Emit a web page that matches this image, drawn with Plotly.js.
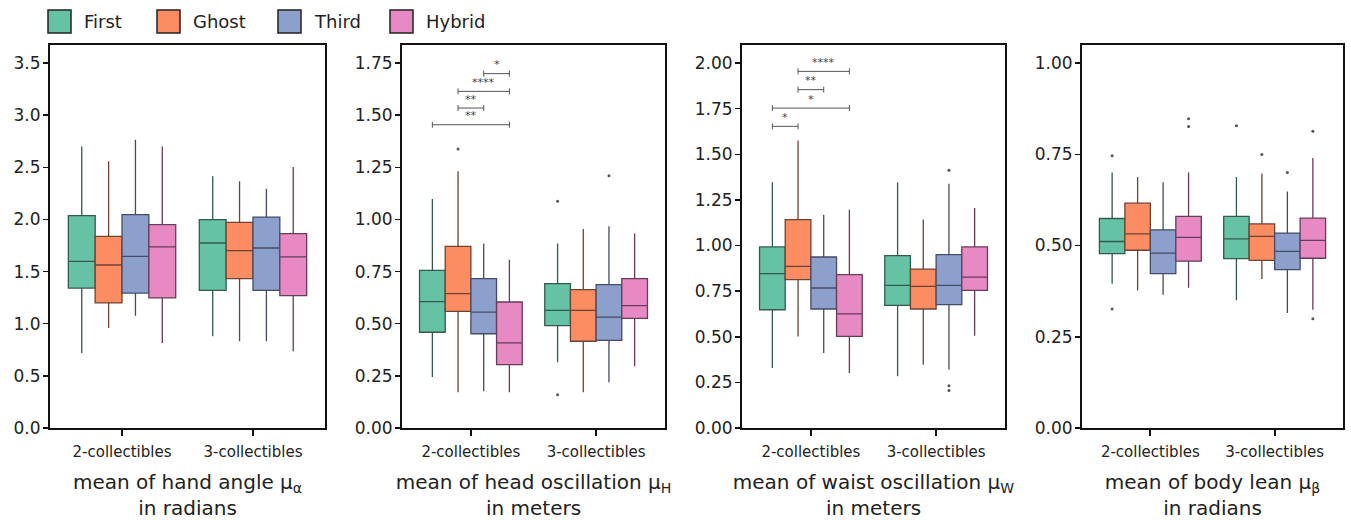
<!DOCTYPE html>
<html>
<head>
<meta charset="utf-8">
<script src="https://cdn.plot.ly/plotly-3.0.1.min.js"></script>
<style>html,body{margin:0;padding:0;background:#fff;}#chart{width:1351px;height:520px;}</style>
</head>
<body>
<div id="chart"></div>
<script>
const categories = ['2-collectibles', '3-collectibles'];
const seriesNames = ['First', 'Ghost', 'Third', 'Hybrid'];
const seriesColors = ['#66c2a5', '#fc8d62', '#8da0cb', '#e78ac3'];
const seriesEdge = ['#34594f', '#6e4334', '#444b66', '#663c5c'];

// Panel 1: mean of hand angle (radians) — [series][category]
const handQ1  = [[1.342, 1.320], [1.199, 1.432], [1.294, 1.320], [1.247, 1.269]];
const handMed = [[1.598, 1.774], [1.563, 1.700], [1.646, 1.726], [1.736, 1.640]];
const handQ3  = [[2.036, 1.998], [1.838, 1.972], [2.046, 2.023], [1.950, 1.863]];
const handLo  = [[0.719, 0.879], [0.959, 0.831], [1.077, 0.831], [0.815, 0.735]];
const handHi  = [[2.700, 2.413], [2.557, 2.365], [2.765, 2.295], [2.700, 2.503]];
const handOut = [[[], []], [[], []], [[], []], [[], []]];

// Panel 2: mean of head oscillation (meters)
const headQ1  = [[0.459, 0.491], [0.559, 0.416], [0.452, 0.420], [0.304, 0.526]];
const headMed = [[0.606, 0.564], [0.644, 0.564], [0.556, 0.532], [0.408, 0.587]];
const headQ3  = [[0.756, 0.692], [0.871, 0.663], [0.716, 0.687], [0.604, 0.716]];
const headLo  = [[0.245, 0.315], [0.171, 0.171], [0.176, 0.219], [0.171, 0.296]];
const headHi  = [[1.098, 0.884], [1.231, 0.954], [0.884, 0.967], [0.807, 0.932]];
const headOut = [[[], [0.160, 1.087]], [[1.338], []], [[], [1.210]], [[], []]];
const headSig = [[0, 3, 1.454, '**'], [1, 2, 1.534, '**'], [1, 3, 1.614, '****'], [2, 3, 1.699, '*']];

// Panel 3: mean of waist oscillation (meters)
const waistQ1  = [[0.648, 0.672], [0.813, 0.652], [0.652, 0.676], [0.502, 0.754]];
const waistMed = [[0.846, 0.782], [0.886, 0.776], [0.767, 0.782], [0.625, 0.827]];
const waistQ3  = [[0.992, 0.944], [1.142, 0.871], [0.937, 0.950], [0.840, 0.992]];
const waistLo  = [[0.329, 0.283], [0.502, 0.347], [0.411, 0.320], [0.301, 0.506]];
const waistHi  = [[1.346, 1.346], [1.576, 1.142], [1.169, 1.339], [1.196, 1.205]];
const waistOut = [[[], []], [[], []], [[], [1.412, 0.232, 0.206]], [[], []]];
const waistSig = [[0, 1, 1.653, '*'], [0, 3, 1.753, '*'], [1, 2, 1.854, '**'], [1, 3, 1.954, '****']];

// Panel 4: mean of body lean (radians)
const leanQ1  = [[0.478, 0.464], [0.487, 0.459], [0.423, 0.434], [0.457, 0.465]];
const leanMed = [[0.511, 0.518], [0.532, 0.525], [0.479, 0.484], [0.522, 0.514]];
const leanQ3  = [[0.574, 0.580], [0.616, 0.559], [0.543, 0.534], [0.580, 0.575]];
const leanLo  = [[0.395, 0.350], [0.377, 0.408], [0.365, 0.315], [0.384, 0.324]];
const leanHi  = [[0.700, 0.688], [0.688, 0.697], [0.673, 0.648], [0.700, 0.740]];
const leanOut = [[[0.746, 0.326], [0.828]], [[], [0.749]], [[], [0.700]], [[0.847, 0.826], [0.813, 0.299]]];

const yTickVals = [
  [0, 0.5, 1.0, 1.5, 2.0, 2.5, 3.0, 3.5],
  [0, 0.25, 0.5, 0.75, 1.0, 1.25, 1.5, 1.75],
  [0, 0.25, 0.5, 0.75, 1.0, 1.25, 1.5, 1.75, 2.0],
  [0, 0.25, 0.5, 0.75, 1.0]
];
const yTickText = [
  ['0.0', '0.5', '1.0', '1.5', '2.0', '2.5', '3.0', '3.5'],
  ['0.00', '0.25', '0.50', '0.75', '1.00', '1.25', '1.50', '1.75'],
  ['0.00', '0.25', '0.50', '0.75', '1.00', '1.25', '1.50', '1.75', '2.00'],
  ['0.00', '0.25', '0.50', '0.75', '1.00']
];
const axisTitles = [
  'mean of hand angle μ<sub>α</sub><br>in radians',
  'mean of head oscillation μ<sub>H</sub><br>in meters',
  'mean of waist oscillation μ<sub>W</sub><br>in meters',
  'mean of body lean μ<sub>β</sub><br>in radians'
];

const panels = [
  {q1: handQ1, med: handMed, q3: handQ3, lo: handLo, hi: handHi, out: handOut, sig: [], top: 3.5},
  {q1: headQ1, med: headMed, q3: headQ3, lo: headLo, hi: headHi, out: headOut, sig: headSig, top: 1.75},
  {q1: waistQ1, med: waistMed, q3: waistQ3, lo: waistLo, hi: waistHi, out: waistOut, sig: waistSig, top: 2.0},
  {q1: leanQ1, med: leanMed, q3: leanQ3, lo: leanLo, hi: leanHi, out: leanOut, sig: [], top: 1.0}
];

const W = 1351, H = 520;
const xPix = [[50, 325], [402, 665], [742, 1005], [1082, 1343]];
const yTopPix = 45, yBotPix = 428, yTickTopPix = 63;
const BOXGAP = 0.18;
const FONT = 'DejaVu Sans, Liberation Sans, Arial, sans-serif';
const catIndex = categories.map((c, j) => j);

// centre offset of series i inside a grouped category (same rule Plotly uses for boxmode 'group')
function boxOffset(i) {
  const dPos = 0.5 * (1 - BOXGAP);
  return -dPos + dPos * (2 * i + 1) / seriesNames.length;
}

const traces = [];
const shapes = [];
const annotations = [];
const layout = {
  width: W, height: H,
  margin: {l: 0, r: 0, t: 0, b: 0},
  paper_bgcolor: '#ffffff', plot_bgcolor: '#ffffff',
  boxmode: 'group', boxgap: BOXGAP, boxgroupgap: 0,
  showlegend: false,
  font: {family: FONT, color: '#222'}
};

panels.forEach((p, k) => {
  const sfx = k === 0 ? '' : String(k + 1);
  const xa = 'x' + sfx, ya = 'y' + sfx;
  seriesNames.forEach((name, i) => {
    traces.push({
      type: 'box', name: name, xaxis: xa, yaxis: ya,
      x: catIndex,
      q1: p.q1[i], median: p.med[i], q3: p.q3[i],
      lowerfence: p.lo[i], upperfence: p.hi[i],
      boxpoints: false,
      line: {color: seriesEdge[i], width: 1.3},
      fillcolor: seriesColors[i],
      whiskerwidth: 0,
      offsetgroup: name, alignmentgroup: 'panel' + k,
      showlegend: false,
      hoverinfo: 'skip'
    });
  });
  // outliers
  seriesNames.forEach((name, i) => {
    const ox = [], oy = [];
    p.out[i].forEach((vals, j) => {
      vals.forEach(v => { ox.push(catIndex[j] + boxOffset(i)); oy.push(v); });
    });
    if (ox.length) {
      traces.push({type: 'scatter', mode: 'markers', xaxis: xa, yaxis: ya, x: ox, y: oy,
        marker: {color: '#555', size: 3}, showlegend: false, hoverinfo: 'skip'});
    }
  });
  const yMax = p.top * (yBotPix - yTopPix) / (yBotPix - yTickTopPix);
  layout['xaxis' + sfx] = {
    domain: [xPix[k][0] / W, xPix[k][1] / W], anchor: ya,
    range: [-0.55, 1.55],
    tickvals: catIndex, ticktext: categories,
    showline: true, linecolor: '#111', linewidth: 2, mirror: true,
    ticks: 'outside', ticklen: 6, tickwidth: 2, tickcolor: '#111',
    showgrid: false, zeroline: false,
    tickfont: {family: FONT, size: 15, color: '#222'},
    ticklabelstandoff: 3,
    title: {text: axisTitles[k], font: {family: FONT, size: 20, color: '#222'}, standoff: 18}
  };
  layout['yaxis' + sfx] = {
    domain: [1 - yBotPix / H, 1 - yTopPix / H], anchor: xa,
    range: [0, yMax],
    tickvals: yTickVals[k], ticktext: yTickText[k],
    showline: true, linecolor: '#111', linewidth: 2, mirror: true,
    ticks: 'outside', ticklen: 5, tickwidth: 1.5, tickcolor: '#111',
    showgrid: false, zeroline: false,
    tickfont: {family: FONT, size: 17, color: '#222'},
    ticklabelstandoff: -1
  };
  p.sig.forEach(s => {
    const xa0 = boxOffset(s[0]), xa1 = boxOffset(s[1]);
    shapes.push({type: 'line', xref: xa, yref: ya, x0: xa0, x1: xa1, y0: s[2], y1: s[2],
      line: {color: '#555', width: 1}});
    [xa0, xa1].forEach(xe => {
      shapes.push({type: 'line', xref: xa, yref: ya, ysizemode: 'pixel', yanchor: s[2],
        x0: xe, x1: xe, y0: -3, y1: 3, line: {color: '#555', width: 1}});
    });
    annotations.push({xref: xa, yref: ya, x: (xa0 + xa1) / 2, y: s[2], yshift: 9,
      text: s[3], showarrow: false, font: {family: FONT, size: 11, color: '#444'}});
  });
});

// legend drawn as paper-anchored swatches
const legendX = [48, 157, 278, 390];
seriesNames.forEach((name, i) => {
  const x0 = legendX[i];
  shapes.push({type: 'rect', xref: 'paper', yref: 'paper',
    x0: x0 / W, x1: (x0 + 23) / W, y0: 1 - 33 / H, y1: 1 - 10 / H,
    fillcolor: seriesColors[i], line: {color: '#222', width: 1.5}});
  annotations.push({xref: 'paper', yref: 'paper', x: (x0 + 34) / W, y: 1 - 21.5 / H,
    xanchor: 'left', yanchor: 'middle', text: name, showarrow: false,
    font: {family: FONT, size: 18, color: '#222'}});
});

layout.shapes = shapes;
layout.annotations = annotations;

Plotly.newPlot('chart', traces, layout, {staticPlot: true, displayModeBar: false});
</script>
</body>
</html>
